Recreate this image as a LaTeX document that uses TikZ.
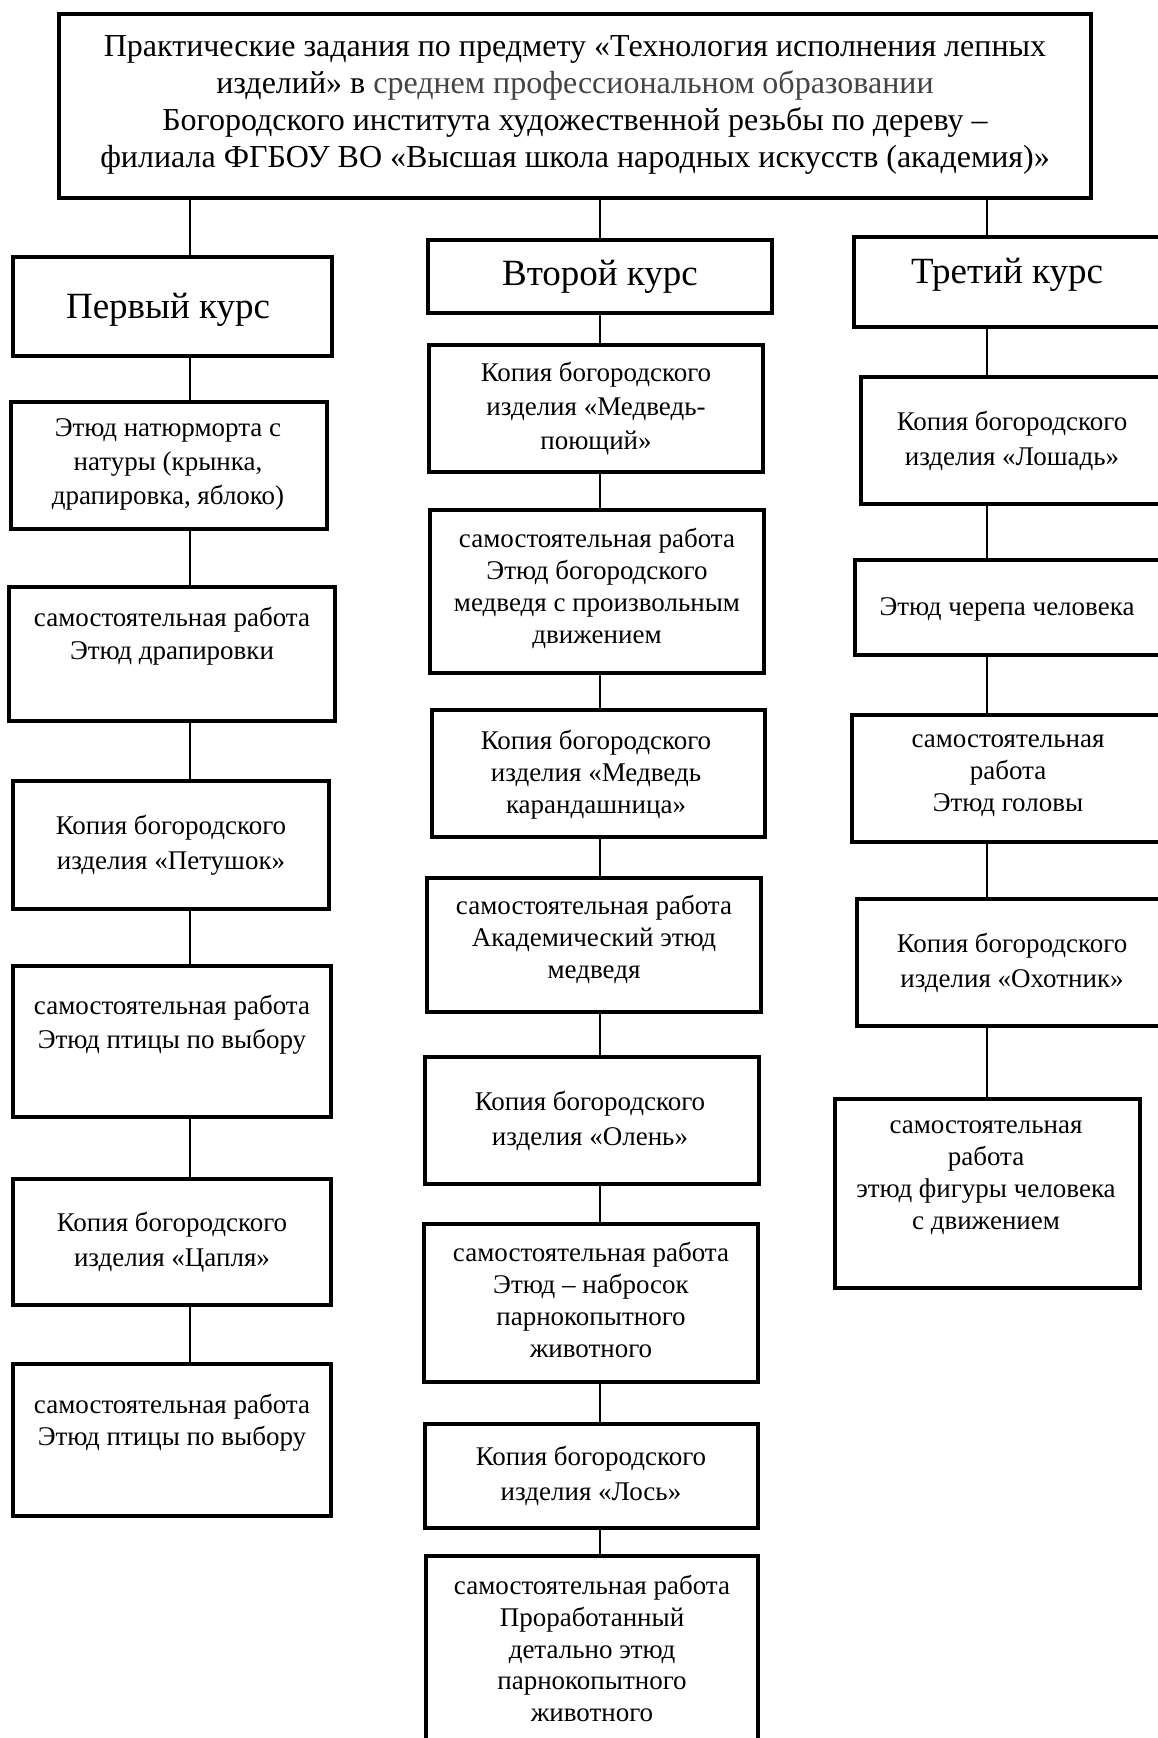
\documentclass[tikz,border=0pt]{standalone}
\usepackage{fontspec}
\setmainfont{Liberation Serif}
\usetikzlibrary{calc}
\definecolor{txtgray}{HTML}{444444}
\tikzset{
  box/.style={draw=black, line width=3.5pt, rectangle, inner sep=0pt, fill=none},
  conn/.style={draw=black, line width=1.7pt},
  body/.style={align=center, inner sep=0pt, font=\fontsize{27}{32}\selectfont},
  bodyk/.style={align=center, inner sep=0pt, font=\fontsize{27}{35}\selectfont},
  titlet/.style={align=center, inner sep=0pt, font=\fontsize{37}{42}\selectfont},
  toptext/.style={align=center, inner sep=0pt, font=\fontsize{32}{36.7}\selectfont},
}
\begin{document}
\begin{tikzpicture}[x=1pt,y=-1pt]
\useasboundingbox (0,0) rectangle (1158,1738);
\clip (0,0) rectangle (1158,1738);
\fill[white] (0,0) rectangle (1158,1738);
% column axes
\coordinate (c1x) at (190,0);
\coordinate (c2x) at (600,0);
\coordinate (c3x) at (987,0);
% top box
\node[box, minimum width=1032pt, minimum height=184pt] (top) at (575,106) {};
\node[toptext] (toptxt) at (575,105) {Практические задания по предмету «Технология исполнения лепных\\изделий» в \textcolor{txtgray}{среднем профессиональном образовании}\\Богородского института художественной резьбы по дереву –\\филиала ФГБОУ ВО «Высшая школа народных искусств (академия)»};
% column 1
\node[box, minimum width=319pt, minimum height=99pt] (c1t) at (172.5,306.5) {};
\node[box, minimum width=316pt, minimum height=127pt] (c1a) at (169,465.5) {};
\node[box, minimum width=326pt, minimum height=134pt] (c1b) at (172,654) {};
\node[box, minimum width=316pt, minimum height=128pt] (c1c) at (171,845) {};
\node[box, minimum width=318pt, minimum height=151pt] (c1d) at (172,1041.5) {};
\node[box, minimum width=318pt, minimum height=126pt] (c1e) at (172,1242) {};
\node[box, minimum width=318pt, minimum height=152pt] (c1f) at (172,1440) {};
\node[titlet] (t1t) at (168,310) {Первый курс};
\node[body, font=\fontsize{27}{34}\selectfont] (t1a) at (168,464) {Этюд натюрморта с\\натуры (крынка,\\драпировка, яблоко)};
\node[body, font=\fontsize{27}{33}\selectfont] (t1b) at (172,636.5) {самостоятельная работа\\Этюд драпировки};
\node[bodyk] (t1c) at (171,845) {Копия богородского\\изделия «Петушок»};
\node[body, font=\fontsize{27}{34}\selectfont] (t1d) at (172,1025) {самостоятельная работа\\Этюд птицы по выбору};
\node[bodyk] (t1e) at (172,1242) {Копия богородского\\изделия «Цапля»};
\node[body] (t1f) at (172,1423) {самостоятельная работа\\Этюд птицы по выбору};
% column 2
\node[box, minimum width=344pt, minimum height=73pt] (c2t) at (600,276.5) {};
\node[box, minimum width=334pt, minimum height=127pt] (c2a) at (596,408.5) {};
\node[box, minimum width=334pt, minimum height=163pt] (c2b) at (597,591.5) {};
\node[box, minimum width=333pt, minimum height=127pt] (c2c) at (598.5,773.5) {};
\node[box, minimum width=334pt, minimum height=134pt] (c2d) at (594,945) {};
\node[box, minimum width=334pt, minimum height=127pt] (c2e) at (592,1120.5) {};
\node[box, minimum width=334pt, minimum height=158pt] (c2f) at (591,1303) {};
\node[box, minimum width=333pt, minimum height=104pt] (c2g) at (591.5,1476) {};
\node[box, minimum width=332pt, minimum height=204pt] (c2h) at (592,1658) {};
\node[titlet] (t2t) at (600,277) {Второй курс};
\node[body, font=\fontsize{27}{34}\selectfont] (t2a) at (596,409) {Копия богородского\\изделия «Медведь-\\поющий»};
\node[body] (t2b) at (597,588) {самостоятельная работа\\Этюд богородского\\медведя с произвольным\\движением};
\node[body] (t2c) at (596,774.5) {Копия богородского\\изделия «Медведь\\карандашница»};
\node[body] (t2d) at (594,939) {самостоятельная работа\\Академический этюд\\медведя};
\node[bodyk] (t2e) at (590,1121) {Копия богородского\\изделия «Олень»};
\node[body] (t2f) at (591,1300) {самостоятельная работа\\Этюд – набросок\\парнокопытного\\животного};
\node[bodyk] (t2g) at (591,1476) {Копия богородского\\изделия «Лось»};
\node[body, font=\fontsize{27}{31.7}\selectfont] (t2h) at (592,1648.5) {самостоятельная работа\\Проработанный\\детально этюд\\парнокопытного\\животного};
% column 3
\node[box, minimum width=346pt, minimum height=90pt] (c3t) at (1027,282) {};
\node[box, minimum width=339pt, minimum height=127pt] (c3a) at (1030.5,440.5) {};
\node[box, minimum width=345pt, minimum height=95pt] (c3b) at (1027.5,607.5) {};
\node[box, minimum width=348pt, minimum height=127pt] (c3c) at (1026,778.5) {};
\node[box, minimum width=343pt, minimum height=127pt] (c3d) at (1028.5,962.5) {};
\node[box, minimum width=305pt, minimum height=189pt] (c3e) at (987.5,1193.5) {};
\node[titlet] (t3t) at (1007,275) {Третий курс};
\node[bodyk] (t3a) at (1012,440.5) {Копия богородского\\изделия «Лошадь»};
\node[body] (t3b) at (1007,609) {Этюд черепа человека};
\node[body] (t3c) at (1008,775.5) {самостоятельная\\работа\\Этюд головы};
\node[bodyk] (t3d) at (1012,963) {Копия богородского\\изделия «Охотник»};
\node[body] (t3e) at (986,1177.5) {самостоятельная\\работа\\этюд фигуры человека\\с движением};
% connectors
\draw[conn] (top.south -| c1x) -- (c1t.north -| c1x);
\draw[conn] (top.south -| c2x) -- (c2t.north -| c2x);
\draw[conn] (top.south -| c3x) -- (c3t.north -| c3x);
\foreach \a/\b in {c1t/c1a,c1a/c1b,c1b/c1c,c1c/c1d,c1d/c1e,c1e/c1f}
  \draw[conn] (\a.south -| c1x) -- (\b.north -| c1x);
\foreach \a/\b in {c2t/c2a,c2a/c2b,c2b/c2c,c2c/c2d,c2d/c2e,c2e/c2f,c2f/c2g,c2g/c2h}
  \draw[conn] (\a.south -| c2x) -- (\b.north -| c2x);
\foreach \a/\b in {c3t/c3a,c3a/c3b,c3b/c3c,c3c/c3d,c3d/c3e}
  \draw[conn] (\a.south -| c3x) -- (\b.north -| c3x);
\end{tikzpicture}
\end{document}
